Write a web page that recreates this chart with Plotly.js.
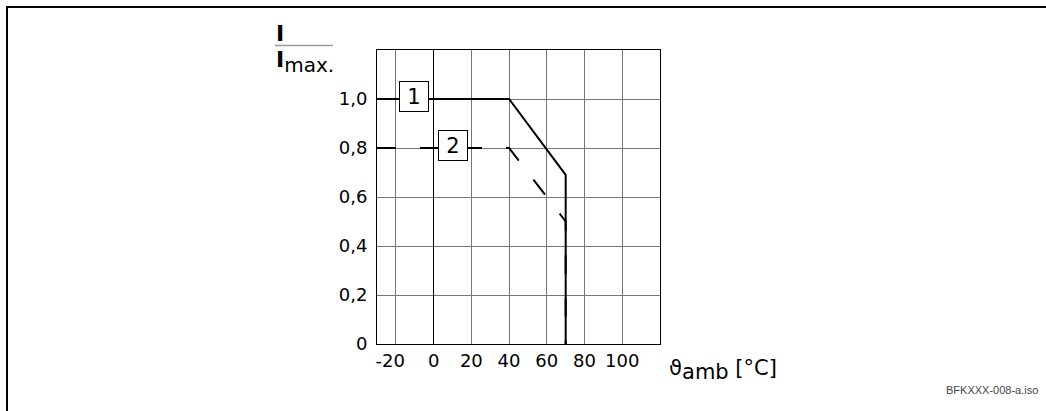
<!DOCTYPE html>
<html>
<head>
<meta charset="utf-8">
<script src="https://cdn.plot.ly/plotly-3.0.1.min.js"></script>
<style>html,body{margin:0;padding:0;background:#fff;}#chart{width:1046px;height:411px;}</style>
</head>
<body>
<div id="chart"></div>
<script>
// Data
const curve1X = [-30, 40, 70, 70];
const curve1Y = [1.0, 1.0, 0.69, 0];
const curve2X = [-30, 40, 70, 70];
const curve2Y = [0.8, 0.8, 0.5, 0];
const xTickVals = [-20, 0, 20, 40, 60, 80, 100];
const xTickText = ['-20\u00a0\u00a0', '0', '20', '40', '60', '80', '100'];
const yTickVals = [0, 0.2, 0.4, 0.6, 0.8, 1.0];
const yTickText = ['0', '0,2', '0,4', '0,6', '0,8', '1,0'];
const curveLabels = ['1', '2'];
const labelX = [-10.3, 10.5];
const labelY = [1.01, 0.81];

const W = 1046, H = 411;
const M = {l: 377, r: 386, t: 50, b: 67};
const PW = W - M.l - M.r, PH = H - M.t - M.b;
const px = x => (x - M.l) / PW;
const py = y => (H - M.b - y) / PH;

const FONT = 'DejaVu Sans, sans-serif';

const traces = [
  {x: curve2X, y: curve2Y, mode: 'lines', line: {color: '#000', width: 2, dash: '19px,24px'}, hoverinfo: 'skip'},
  {x: curve1X, y: curve1Y, mode: 'lines', line: {color: '#000', width: 2}, hoverinfo: 'skip'}
];

const annotations = curveLabels.map((t, i) => ({
  x: labelX[i], y: labelY[i], xref: 'x', yref: 'y', text: t, showarrow: false,
  font: {family: FONT, size: 21, color: '#000'},
  bgcolor: '#fff', bordercolor: '#000', borderwidth: 1, borderpad: 0,
  width: 28, height: 29, xanchor: 'center', yanchor: 'middle'
}));

annotations.push(
  {x: px(274), y: py(34), xref: 'paper', yref: 'paper', text: '<b>I</b>', showarrow: false,
   xanchor: 'left', yanchor: 'middle', font: {family: FONT, size: 22, color: '#000'}},
  {x: px(274), y: py(62), xref: 'paper', yref: 'paper',
   text: '<b>I</b><sub><span style="font-size:20px">max.</span></sub>', showarrow: false,
   xanchor: 'left', yanchor: 'middle', font: {family: FONT, size: 22, color: '#000'}},
  {x: px(667), y: py(370), xref: 'paper', yref: 'paper',
   text: 'ϑ<sub><span style="font-size:21px">amb</span></sub> [°C]', showarrow: false,
   xanchor: 'left', yanchor: 'middle', font: {family: FONT, size: 21, color: '#000'}},
  {x: px(1040), y: py(390), xref: 'paper', yref: 'paper', text: 'BFKXXX-008-a.iso', showarrow: false,
   xanchor: 'right', yanchor: 'middle', font: {family: 'Liberation Sans, Arial, sans-serif', size: 11, color: '#444'}}
);

const shapes = [
  {type: 'line', xref: 'paper', yref: 'paper', x0: px(275), x1: px(333), y0: py(45.5), y1: py(45.5), line: {color: '#999', width: 1.5}},
  {type: 'line', xref: 'paper', yref: 'paper', x0: px(6), x1: px(1046), y0: py(7), y1: py(7), line: {color: '#000', width: 2}},
  {type: 'line', xref: 'paper', yref: 'paper', x0: px(7), x1: px(7), y0: py(6), y1: py(411), line: {color: '#000', width: 2}}
];

const layout = {
  width: W, height: H, margin: M,
  paper_bgcolor: '#fff', plot_bgcolor: '#fff',
  showlegend: false,
  xaxis: {
    range: [-30, 120], tickvals: xTickVals, ticktext: xTickText,
    showgrid: true, gridcolor: '#777', gridwidth: 1,
    zeroline: true, zerolinecolor: '#000', zerolinewidth: 1,
    showline: true, linecolor: '#000', linewidth: 1, mirror: true,
    ticks: '', tickfont: {family: FONT, size: 18, color: '#000'}, fixedrange: true
  },
  yaxis: {
    range: [0, 1.2], tickvals: yTickVals, ticktext: yTickText,
    showgrid: true, gridcolor: '#777', gridwidth: 1,
    zeroline: false,
    showline: true, linecolor: '#000', linewidth: 1, mirror: true,
    ticks: '', ticklabelstandoff: 5,
    tickfont: {family: FONT, size: 18, color: '#000'}, fixedrange: true
  },
  annotations: annotations,
  shapes: shapes
};

Plotly.newPlot('chart', traces, layout, {displayModeBar: false, staticPlot: true});
</script>
</body>
</html>
